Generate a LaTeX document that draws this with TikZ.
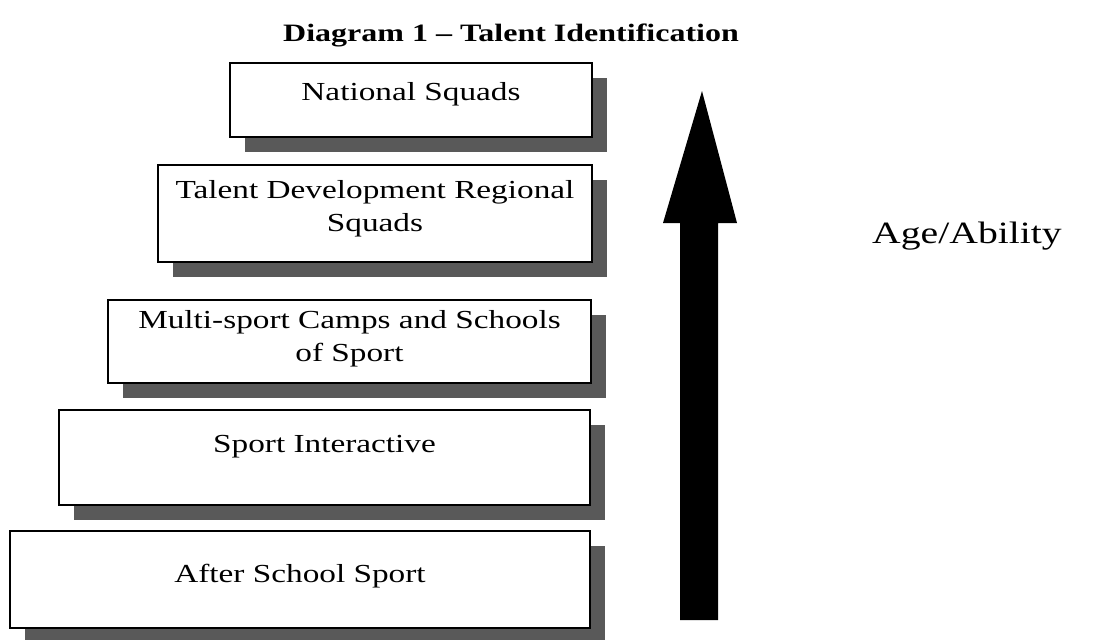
\documentclass[tikz,border=0pt]{standalone}
\usepackage{fontspec}
\setmainfont[FakeStretch=1.28]{Liberation Serif}
\usetikzlibrary{shadows}

\tikzset{
  tier/.style={draw,line width=1.8pt,fill=white,inner sep=0pt,
    drop shadow={shadow xshift=15pt,shadow yshift=-15pt,fill=black!65,opacity=1}},
  tiertext/.style={font=\fontsize{26}{33}\selectfont,align=center,inner sep=0pt}
}

\begin{document}
\begin{tikzpicture}[x=1pt,y=-1pt]
  \useasboundingbox (0,0) rectangle (1096,640);
  \node[font=\fontsize{25}{30}\selectfont\bfseries,inner sep=0pt,anchor=base] (title) at (511,41) {Diagram 1 -- Talent Identification};
  % the five levels, top to bottom
  \node[tier,minimum width=362,minimum height=74] (n1) at (411,100) {};
  \node[tier,minimum width=434,minimum height=97] (n2) at (375,213.5) {};
  \node[tier,minimum width=483,minimum height=83] (n3) at (349.5,341.5) {};
  \node[tier,minimum width=531,minimum height=95] (n4) at (324.5,457.5) {};
  \node[tier,minimum width=580,minimum height=97] (n5) at (300,579.5) {};
  \node[tiertext,anchor=base] (t1) at (411,100) {National Squads};
  \node[tiertext,anchor=north] (t2) at (375,180) {Talent Development Regional\\Squads};
  \node[tiertext,anchor=north] (t3) at (349.5,310) {Multi-sport Camps and Schools\\of Sport};
  \node[tiertext,anchor=base] (t4) at (324.5,452) {Sport Interactive};
  \node[tiertext,anchor=base] (t5) at (300,582) {After School Sport};
  % the rising arrow
  \fill (680,620) -- (680,223) -- (663,223) -- (702,91) -- (737,223)
    -- (718,223) -- (718,620) -- cycle;
  \node[font=\fontsize{31}{36}\selectfont,inner sep=0pt,anchor=base] (age) at (967,243) {Age/Ability};
\end{tikzpicture}
\end{document}
